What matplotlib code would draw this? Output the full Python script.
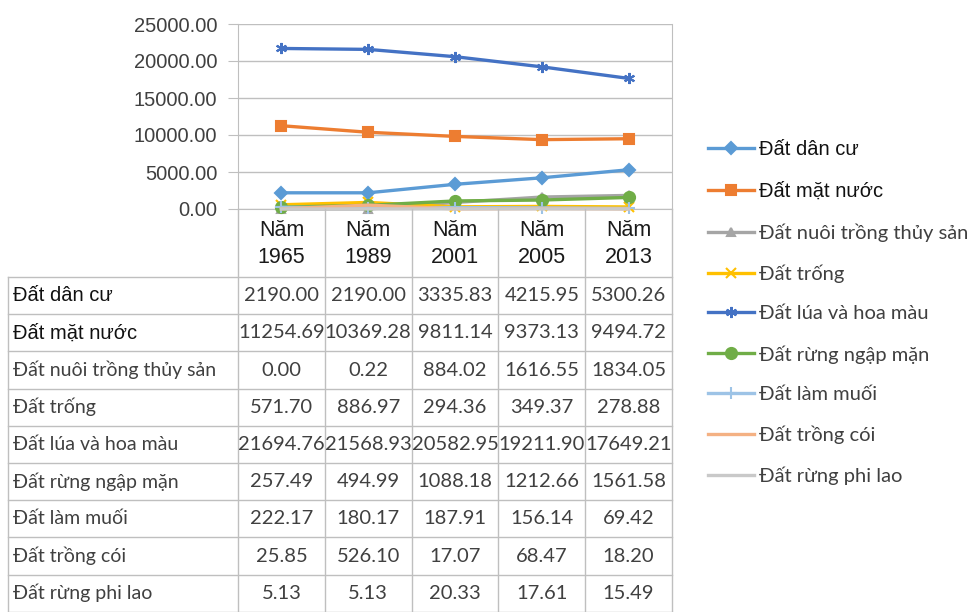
import numpy as np
import matplotlib
matplotlib.use("Agg")
import matplotlib.pyplot as plt
import matplotlib.transforms as mtransforms

#
# Data
#
years = ["1965", "1989", "2001", "2005", "2013"]
names = ["Đất dân cư", "Đất mặt nước", "Đất nuôi trồng thủy sản", "Đất trống",
         "Đất lúa và hoa màu", "Đất rừng ngập mặn", "Đất làm muối",
         "Đất trồng cói", "Đất rừng phi lao"]
dan_cu = [2190.00, 2190.00, 3335.83, 4215.95, 5300.26]
mat_nuoc = [11254.69, 10369.28, 9811.14, 9373.13, 9494.72]
nuoi_trong = [0.00, 0.22, 884.02, 1616.55, 1834.05]
dat_trong = [571.70, 886.97, 294.36, 349.37, 278.88]
lua_hoa_mau = [21694.76, 21568.93, 20582.95, 19211.90, 17649.21]
rung_ngap_man = [257.49, 494.99, 1088.18, 1212.66, 1561.58]
lam_muoi = [222.17, 180.17, 187.91, 156.14, 69.42]
trong_coi = [25.85, 526.10, 17.07, 68.47, 18.20]
phi_lao = [5.13, 5.13, 20.33, 17.61, 15.49]
series = [dan_cu, mat_nuoc, nuoi_trong, dat_trong, lua_hoa_mau,
          rung_ngap_man, lam_muoi, trong_coi, phi_lao]
yticks = [0, 5000, 10000, 15000, 20000, 25000]

colors = ["#5B9BD5", "#ED7D31", "#A5A5A5", "#FFC000", "#4472C4",
          "#70AD47", "#9DC3E6", "#F4B183", "#C9C9C9"]
markers = ["D", "s", "^", "x", (6, 2, 0), "o", "+", None, None]
msizes = [6, 7, 6, 7, 8, 8, 8, 0, 0]

ARIAL = ["Liberation Sans", "DejaVu Sans"]
CALIBRI = ["Lato", "DejaVu Sans"]

W, H = 978, 612
fig = plt.figure(figsize=(W / 100, H / 100), dpi=100)


def fx(px):
    return px / W


def fy(py):
    return 1 - py / H


ax = fig.add_axes([fx(238), fy(209), fx(672) - fx(238), fy(24) - fy(209)])
x = np.arange(len(years))
for i, s in enumerate(series):
    ax.plot(x, s, color=colors[i], lw=2.4, marker=markers[i],
            ms=msizes[i], mew=1.5, label=names[i], clip_on=False,
            zorder=3 + i)

ax.set_xlim(-0.5, len(years) - 0.5)
ax.set_ylim(0, 25000)
ax.set_yticks(yticks)
ax.set_yticklabels(["%.2f" % v for v in yticks], fontfamily=ARIAL,
                   fontsize=14.5, color="#404040")
ax.yaxis.grid(True, color="#BFBFBF", lw=1)
ax.set_axisbelow(True)
ax.set_xticks([])
ax.tick_params(axis="y", length=7, color="#BFBFBF", pad=8)
ax.spines["top"].set_visible(False)
for sp in ["left", "right", "bottom"]:
    ax.spines[sp].set_color("#BFBFBF")

#
# Data table below the plot
#
trans = mtransforms.blended_transform_factory(ax.transData, fig.transFigure)
line_c = "#BFBFBF"
row_top = 277
row_h = 37.2
table_bottom = row_top + row_h * len(names)
left_px = 8

# vertical column lines
for b in np.arange(len(years) + 1) - 0.5:
    fig.add_artist(plt.Line2D([b, b], [fy(209), fy(table_bottom)],
                              transform=trans, color=line_c, lw=1))
fig.add_artist(plt.Line2D([fx(left_px), fx(left_px)], [fy(row_top), fy(table_bottom)],
                          color=line_c, lw=1))
# horizontal row lines
for r in range(len(names) + 1):
    yy = fy(row_top + r * row_h)
    fig.add_artist(plt.Line2D([fx(left_px), fx(672)], [yy, yy], color=line_c, lw=1))

# header
for i, yr in enumerate(years):
    fig.text(i, fy(244), "Năm\n" + yr, transform=trans, ha="center", va="center",
             fontfamily=ARIAL, fontsize=15.5, color="#1a1a1a", linespacing=1.35)

# rows
for r, (nm, s) in enumerate(zip(names, series)):
    yc = fy(row_top + (r + 0.5) * row_h)
    if r < 2:
        fig.text(fx(13), yc, nm, ha="left", va="center", fontfamily=ARIAL,
                 fontsize=14.5, color="#111111")
    else:
        fig.text(fx(13), yc, nm, ha="left", va="center", fontfamily=CALIBRI,
                 fontsize=14, color="#404040")
    for i, v in enumerate(s):
        fig.text(i, yc, "%.2f" % v, transform=trans, ha="center", va="center",
                 fontfamily=CALIBRI, fontsize=14.5, color="#404040")

#
# Legend
#
handles, labels = ax.get_legend_handles_labels()
leg = fig.legend(handles, labels, loc="upper left",
                 bbox_to_anchor=(fx(690), fy(122)), frameon=False,
                 handlelength=2.3, handletextpad=0.25, labelspacing=1.12,
                 prop={"family": CALIBRI, "size": 14.5})
for k, t in enumerate(leg.get_texts()):
    if k < 2:
        t.set_fontfamily(ARIAL)
        t.set_fontsize(14.5)
        t.set_color("#111111")
    else:
        t.set_color("#404040")

plt.savefig("out.png", dpi=100)
